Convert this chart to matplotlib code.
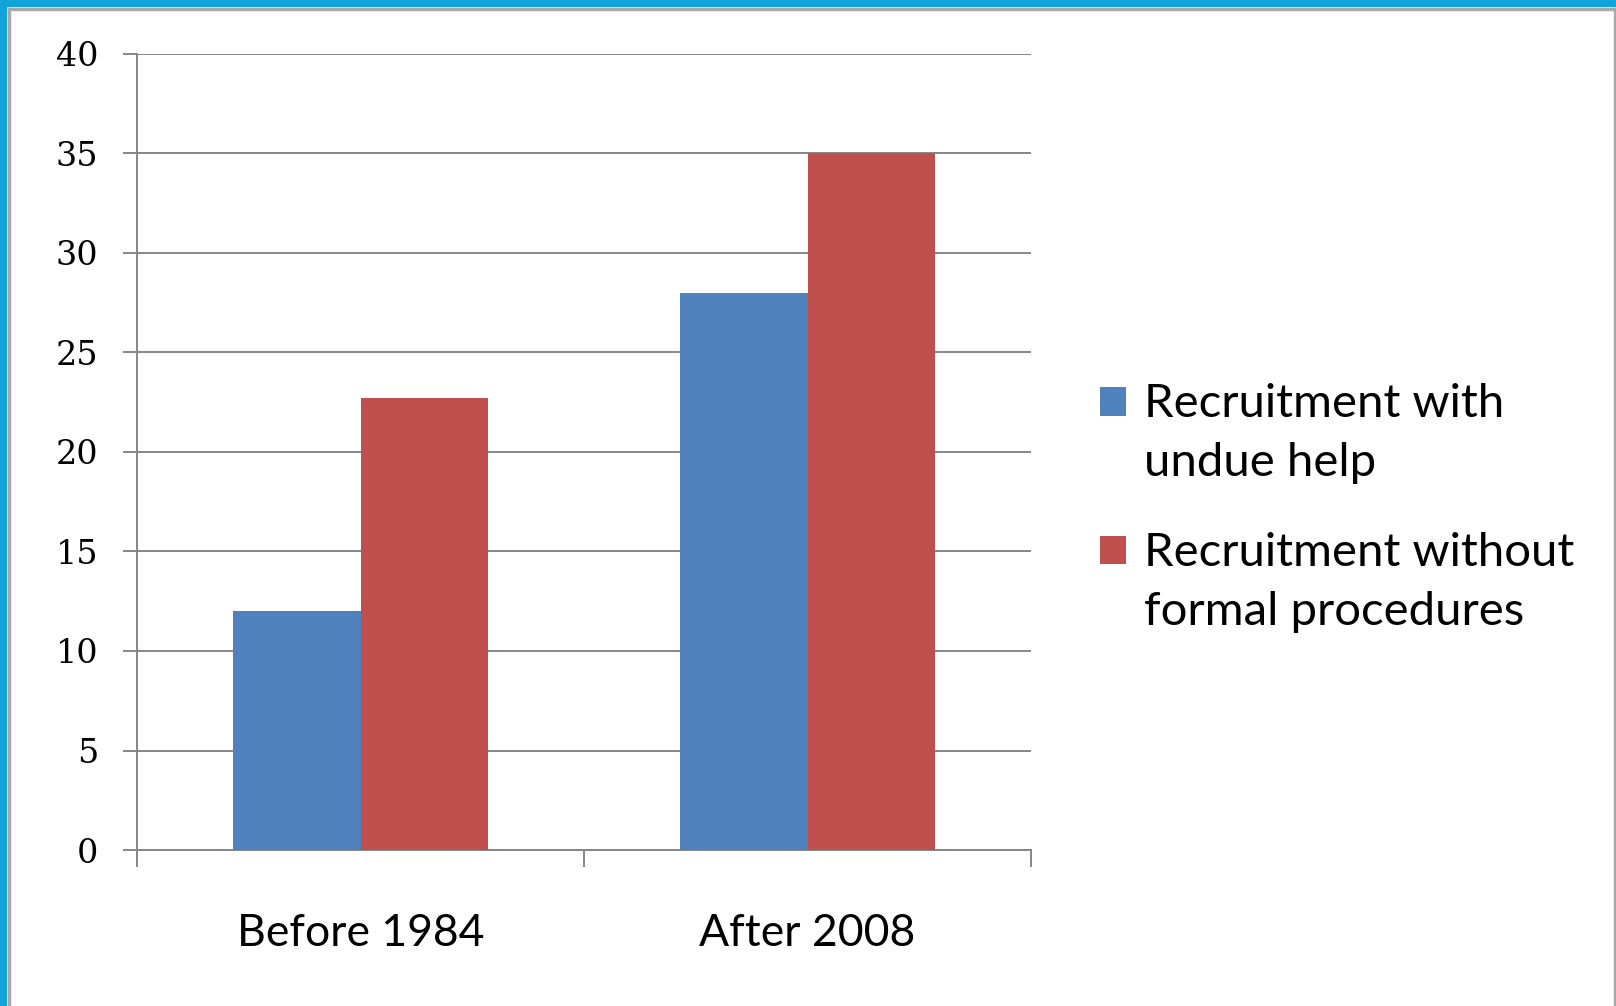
import matplotlib
matplotlib.use("Agg")
import matplotlib.pyplot as plt
from matplotlib.patches import Rectangle
from matplotlib.legend_handler import HandlerPatch
from matplotlib.container import BarContainer
import numpy as np

# data
categories = ["Before 1984", "After 2008"]
series_names = ["Recruitment with\nundue help", "Recruitment without\nformal procedures"]
undue_help = [12, 28]
no_formal = [22.7, 35]
y_ticks = [0, 5, 10, 15, 20, 25, 30, 35, 40]

blue = "#4f81bd"
red = "#c0504d"
grid_grey = "#868686"

LEG_SIZE = 34
LINE_SPACING = 1.5

fig = plt.figure(figsize=(16.16, 10.06), dpi=100)
ax = fig.add_axes([0.0848, 0.155, 0.5532, 0.7917])

# frame decoration of the slide
fig.patches.append(Rectangle((0, 1 - 6 / 1006), 1, 6 / 1006, transform=fig.transFigure,
                             color="#10a3d8", zorder=0))
fig.patches.append(Rectangle((0, 0), 6 / 1616, 1, transform=fig.transFigure,
                             color="#10a3d8", zorder=0))
fig.patches.append(Rectangle((8 / 1616, 0), 2 / 1616, 1 - 8 / 1006, transform=fig.transFigure,
                             color="#a8a8a8", zorder=0))
fig.patches.append(Rectangle((8 / 1616, 1 - 10 / 1006), 1 - 8 / 1616, 2 / 1006,
                             transform=fig.transFigure, color="#a8a8a8", zorder=0))
fig.patches.append(Rectangle((1 - 2 / 1616, 0), 2 / 1616, 1 - 8 / 1006,
                             transform=fig.transFigure, color="#a8a8a8", zorder=0))

x = np.arange(len(categories))
w = 1 / 3.5
ax.bar(x - w / 2, undue_help, w, color=blue, label=series_names[0], zorder=3)
ax.bar(x + w / 2, no_formal, w, color=red, label=series_names[1], zorder=3)

ax.set_xlim(-0.5, 1.5)
ax.set_ylim(0, 40)
ax.set_yticks(y_ticks)
ax.set_yticklabels([str(v) for v in y_ticks], family="DejaVu Serif", fontsize=24)
ax.yaxis.grid(True, color=grid_grey, linewidth=1.4, zorder=0)
ax.set_axisbelow(True)

ax.set_xticks(x)
ax.set_xticklabels(categories, family="Lato", fontsize=32)
ax.set_xticks([-0.5, 0.5, 1.5], minor=True)
ax.tick_params(axis="x", which="major", length=0, pad=45)
ax.tick_params(axis="x", which="minor", length=12, width=1.4, color=grid_grey)
ax.tick_params(axis="y", length=10, width=1.4, color=grid_grey, pad=18)

for side in ["top", "right"]:
    ax.spines[side].set_visible(False)
for side in ["left", "bottom"]:
    ax.spines[side].set_color(grid_grey)
    ax.spines[side].set_linewidth(1.4)


# legend square sits beside the first line of the label, like Excel does
def first_line_square(legend, orig_handle, xdescent, ydescent, width, height, fontsize):
    shift = 0.5 * LINE_SPACING * fontsize - 2
    return Rectangle((-xdescent, -ydescent + shift), width, height)


def copy_bar_style(legend_handle, orig_handle):
    legend_handle.update_from(orig_handle.patches[0])


leg = ax.legend(loc="center left", bbox_to_anchor=(0.681, 0.495), bbox_transform=fig.transFigure,
                frameon=False, prop={"family": "Lato", "size": LEG_SIZE},
                handlelength=0.55, handleheight=0.55, handletextpad=0.37, labelspacing=1.0,
                borderpad=0, borderaxespad=0,
                handler_map={BarContainer: HandlerPatch(patch_func=first_line_square,
                                                        update_func=copy_bar_style)})
for t in leg.get_texts():
    t.set_linespacing(LINE_SPACING)

fig.savefig("out.png", dpi=100, facecolor="white")
